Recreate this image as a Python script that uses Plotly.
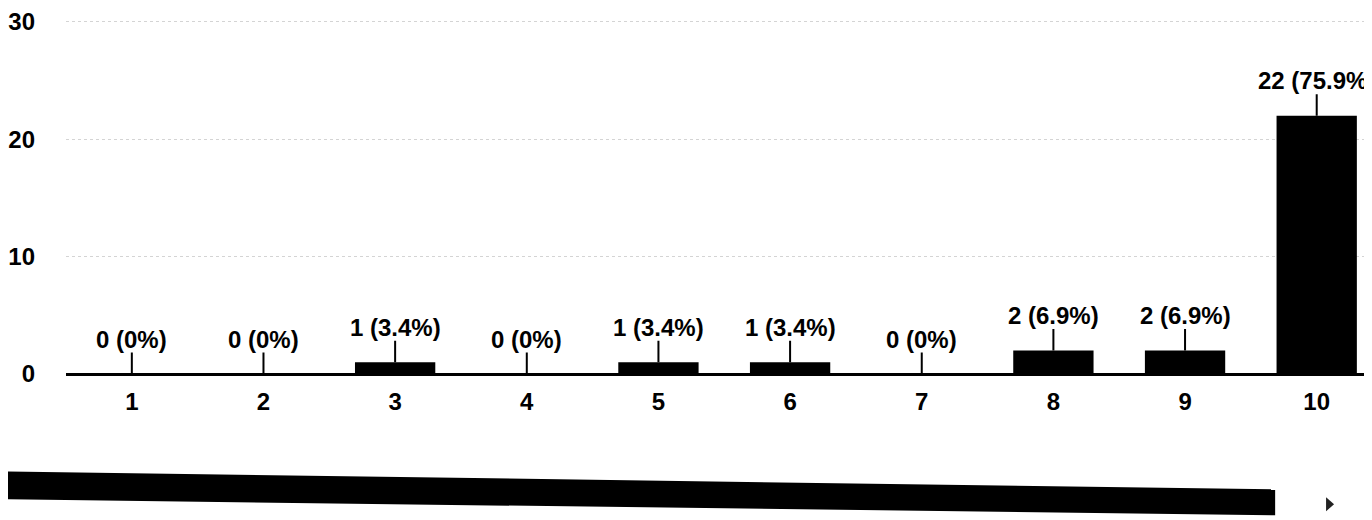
import plotly.graph_objects as go

categories = ["1", "2", "3", "4", "5", "6", "7", "8", "9", "10"]
counts = [0, 0, 1, 0, 1, 1, 0, 2, 2, 22]
labels = ["0 (0%)", "0 (0%)", "1 (3.4%)", "0 (0%)", "1 (3.4%)", "1 (3.4%)",
          "0 (0%)", "2 (6.9%)", "2 (6.9%)", "22 (75.9%)"]
y_ticks = [0, 10, 20, 30]

FONT = "Liberation Sans, Arial, sans-serif"
OFF = 8  # page body margin
YMAX = 30.5

fig = go.Figure()
fig.add_trace(go.Bar(
    x=categories, y=counts,
    marker=dict(color="#000000", line=dict(width=0)),
    hoverinfo="skip",
))

for i, (v, t) in enumerate(zip(counts, labels)):
    # leader line
    fig.add_annotation(
        x=i, y=v, xref="x", yref="y", text="",
        showarrow=True, arrowhead=0, arrowwidth=2, arrowcolor="#000",
        ax=0, ay=-23, standoff=0,
    )
    fig.add_annotation(
        x=i, y=v, xref="x", yref="y", text=t, showarrow=False,
        yshift=35, yanchor="middle", xanchor="center",
        font=dict(family=FONT, size=24, color="#000", weight="bold"),
    )

W, H = 1372 - OFF, 520 - OFF
zero_px, top30_px = 374, 20
unit = (zero_px - top30_px) / 30
L, R = 64 - OFF, 0
T = round(top30_px - (YMAX - 30) * unit) - OFF
B = 520 - zero_px
pw, ph = W - L - R, H - T - B


def px(x):
    return (x - OFF - L) / pw


def py(y):
    return (H - B - (y - OFF)) / ph


# scrollbar (photocopied, slightly slanted)
fig.add_shape(
    type="path", xref="paper", yref="paper",
    path=f"M {px(0)},{py(472)} L {px(1275)},{py(490)} L {px(1275)},{py(516)} L {px(0)},{py(500)} Z",
    fillcolor="#000", line=dict(width=0),
)
fig.add_shape(
    type="path", xref="paper", yref="paper",
    path=f"M {px(1326)},{py(498)} L {px(1334)},{py(505)} L {px(1326)},{py(512)} Z",
    fillcolor="#222", line=dict(width=0),
)

fig.update_layout(
    width=W, height=H,
    margin=dict(l=L, r=R, t=T, b=B),
    paper_bgcolor="white", plot_bgcolor="white",
    showlegend=False, bargap=0.39,
    font=dict(family=FONT, size=24, color="#000", weight="bold"),
    xaxis=dict(
        type="category", range=[-0.5, 9.42],
        showgrid=False, showline=False, zeroline=False,
        ticks="", ticklabelstandoff=11,
        tickfont=dict(family=FONT, size=24, color="#000", weight="bold"),
    ),
    yaxis=dict(
        range=[0, YMAX], tickvals=y_ticks,
        showgrid=True, gridcolor="#d4d4d4", griddash="dot", gridwidth=1,
        zeroline=True, zerolinecolor="#000", zerolinewidth=3,
        showline=False, ticks="", ticklabelstandoff=30,
        ticklabeloverflow="allow",
        tickfont=dict(family=FONT, size=24, color="#000", weight="bold"),
    ),
)

fig.write_html("out.html")
